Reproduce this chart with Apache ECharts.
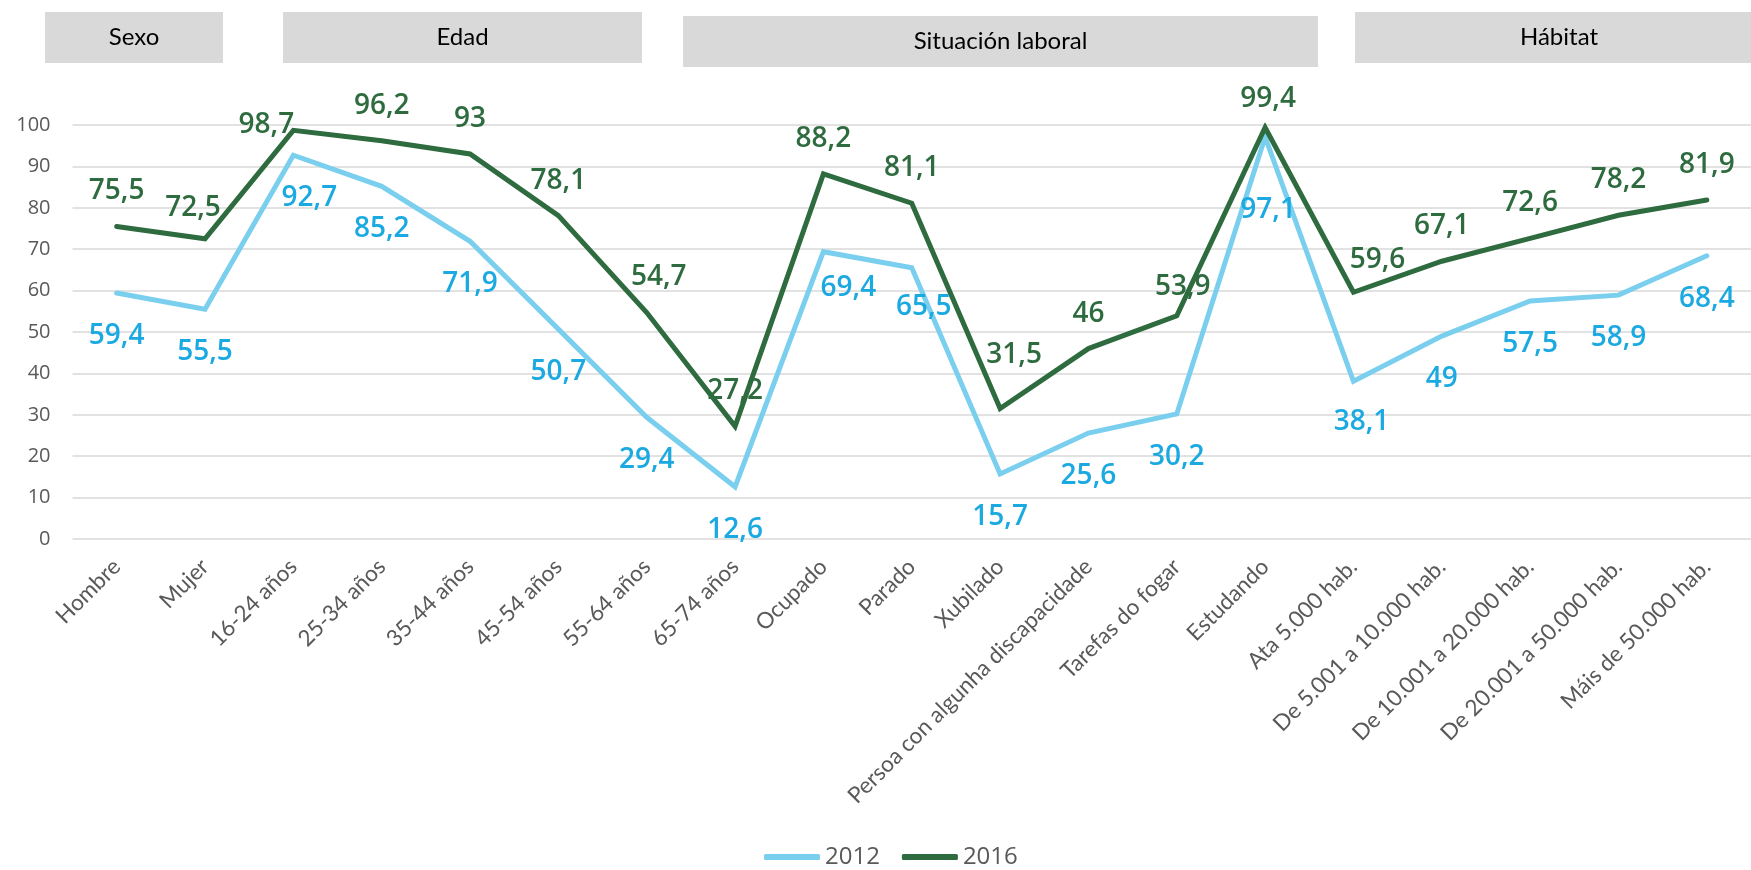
<!DOCTYPE html>
<html>
<head>
<meta charset="utf-8">
<script src="https://cdn.jsdelivr.net/npm/echarts@6/dist/echarts.min.js"></script>
<style>
  html, body { margin: 0; padding: 0; background: #fff; }
  #main { width: 1751px; height: 870px; }
</style>
</head>
<body>
<div id="main"></div>
<script>
// categorias do eixo X
var categories = [
  'Hombre', 'Mujer', '16-24 años', '25-34 años', '35-44 años', '45-54 años',
  '55-64 años', '65-74 años', 'Ocupado', 'Parado', 'Xubilado',
  'Persoa con algunha discapacidade', 'Tarefas do fogar', 'Estudando',
  'Ata 5.000 hab.', 'De 5.001 a 10.000 hab.', 'De 10.001 a 20.000 hab.',
  'De 20.001 a 50.000 hab.', 'Máis de 50.000 hab.'
];

// valores 2012
var values2012 = [59.4, 55.5, 92.7, 85.2, 71.9, 50.7, 29.4, 12.6, 69.4, 65.5,
  15.7, 25.6, 30.2, 97.1, 38.1, 49, 57.5, 58.9, 68.4];

// valores 2016
var values2016 = [75.5, 72.5, 98.7, 96.2, 93, 78.1, 54.7, 27.2, 88.2, 81.1,
  31.5, 46, 53.9, 99.4, 59.6, 67.1, 72.6, 78.2, 81.9];

var seriesNames = ['2012', '2016'];

// grupos da cabeceira
var groupNames = ['Sexo', 'Edad', 'Situación laboral', 'Hábitat'];

var yTicks = { min: 0, max: 100, interval: 10 };

var myChart = echarts.init(document.getElementById('main'));

// desprazamentos das etiquetas que Excel moveu a man
var shift2012 = { 2: [16, 0], 8: [25, -7], 9: [12, -4], 13: [3, 30], 14: [8, -2] };
var shift2016 = { 1: [-12, 4], 2: [-27, 30], 6: [12, -1], 10: [14, -19], 13: [3, 7], 14: [24, 3], 12: [6, 6] };

function fmt(v) {
  return String(v).replace('.', ',');
}

function buildData(values, shifts) {
  return values.map(function (v, i) {
    var item = { value: v };
    if (shifts[i]) {
      item.label = { offset: shifts[i] };
    }
    return item;
  });
}

// caixas grises da cabeceira
var boxes = [
  { x: 45, y: 12, w: 178, h: 51 },
  { x: 283, y: 12, w: 359, h: 51 },
  { x: 683, y: 16, w: 635, h: 51 },
  { x: 1355, y: 12, w: 400, h: 51 }
];
var graphics = [];
boxes.forEach(function (b, i) {
  graphics.push({
    type: 'rect',
    left: b.x, top: b.y,
    shape: { width: b.w, height: b.h },
    style: { fill: '#D9D9D9' },
    silent: true
  });
  graphics.push({
    type: 'text',
    x: b.x + (i === 3 ? 408 : b.w) / 2,
    y: b.y + b.h / 2,
    style: {
      text: groupNames[i],
      fill: '#000',
      font: '24px Lato',
      textAlign: 'center',
      textVerticalAlign: 'middle'
    },
    silent: true
  });
});

option = {
  animation: false,
  backgroundColor: '#fff',
  graphic: graphics,
  legend: {
    left: 764,
    top: 845,
    padding: 0,
    icon: 'roundRect',
    itemWidth: 56,
    itemHeight: 6,
    itemGap: 22,
    data: seriesNames,
    textStyle: { color: '#595959', fontSize: 24, fontFamily: 'Open Sans', padding: [0, 0, 0, 0] }
  },
  grid: {
    left: 72.5,
    right: -12.5,
    top: 125,
    bottom: 331,
    containLabel: false
  },
  xAxis: {
    type: 'category',
    data: categories,
    boundaryGap: true,
    axisLine: { show: false },
    axisTick: { show: false },
    axisLabel: {
      rotate: 45,
      interval: 0,
      margin: 24,
      color: '#595959',
      fontSize: 22.5,
      fontFamily: 'Lato'
    }
  },
  yAxis: {
    type: 'value',
    min: yTicks.min,
    max: yTicks.max,
    interval: yTicks.interval,
    axisLine: { show: false },
    axisTick: { show: false },
    axisLabel: {
      margin: 22,
      color: '#595959',
      fontSize: 20,
      fontFamily: 'Open Sans'
    },
    splitLine: { lineStyle: { color: '#D9D9D9', width: 1.5 } }
  },
  series: [
    {
      name: seriesNames[0],
      type: 'line',
      data: buildData(values2012, shift2012),
      symbol: 'circle',
      symbolSize: 2,
      color: '#7ACFEF',
      lineStyle: { color: '#7ACFEF', width: 5, join: 'miter', cap: 'round' },
      itemStyle: { color: '#7ACFEF' },
      label: {
        show: true,
        position: 'bottom',
        distance: 28,
        color: '#1BA9E1',
        fontSize: 28,
        lineHeight: 28,
        fontWeight: 600,
        fontFamily: 'Open Sans',
        formatter: function (p) { return fmt(p.value); }
      }
    },
    {
      name: seriesNames[1],
      type: 'line',
      data: buildData(values2016, shift2016),
      symbol: 'circle',
      symbolSize: 2,
      color: '#2E6B3F',
      lineStyle: { color: '#2E6B3F', width: 5, join: 'miter', cap: 'round' },
      itemStyle: { color: '#2E6B3F' },
      label: {
        show: true,
        position: 'top',
        distance: 20,
        color: '#2E6B3F',
        fontSize: 28,
        lineHeight: 28,
        fontWeight: 600,
        fontFamily: 'Open Sans',
        formatter: function (p) { return fmt(p.value); }
      }
    }
  ]
};

myChart.setOption(option);
</script>
</body>
</html>
